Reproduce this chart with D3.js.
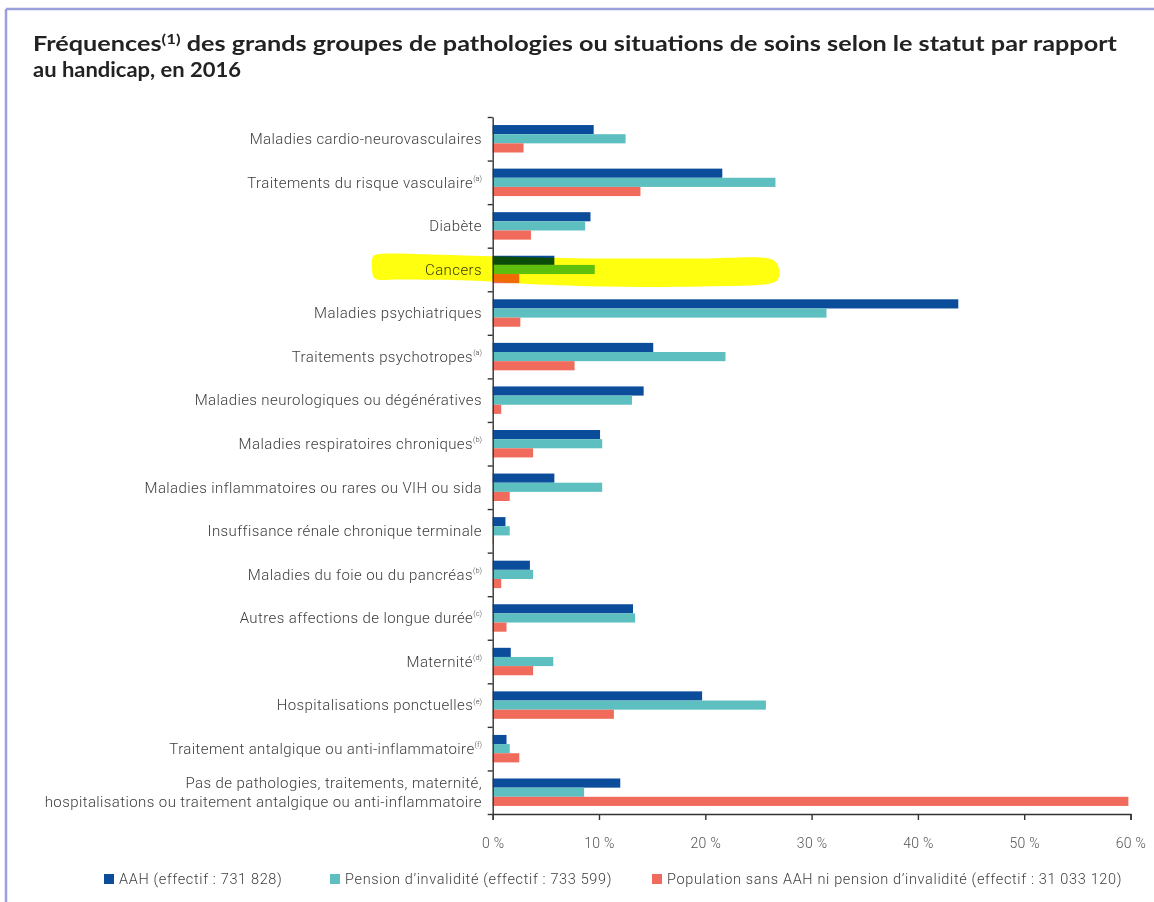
<!DOCTYPE html>
<html lang="fr">
<head>
<meta charset="utf-8">
<script src="https://cdn.jsdelivr.net/npm/d3@7"></script>
<style>
  html, body { margin: 0; padding: 0; background: #fff; }
  svg { display: block; }
  .lbl { font-family: Roboto, "Open Sans", sans-serif; font-weight: 300; fill: #3c3c3c; letter-spacing: 0.4px; }
  .axis path, .axis line { stroke: #333; stroke-width: 1.4; }
  .axis text { font-family: Roboto, sans-serif; font-weight: 300; font-size: 14px; fill: #555; letter-spacing: 0.3px; }
</style>
</head>
<body>
<svg id="chart" width="1154" height="902"></svg>
<script>
// Pathology groups ("|" splits a label over two lines)
const categories = [
  "Maladies cardio-neurovasculaires",
  "Traitements du risque vasculaire",
  "Diabète",
  "Cancers",
  "Maladies psychiatriques",
  "Traitements psychotropes",
  "Maladies neurologiques ou dégénératives",
  "Maladies respiratoires chroniques",
  "Maladies inflammatoires ou rares ou VIH ou sida",
  "Insuffisance rénale chronique terminale",
  "Maladies du foie ou du pancréas",
  "Autres affections de longue durée",
  "Maternité",
  "Hospitalisations ponctuelles",
  "Traitement antalgique ou anti-inflammatoire",
  "Pas de pathologies, traitements, maternité,|hospitalisations ou traitement antalgique ou anti-inflammatoire"
];
const footnotes = ["", "(a)", "", "", "", "(a)", "", "(b)", "", "", "(b)", "(c)", "(d)", "(e)", "(f)", ""];

// Frequencies in %, by status
const aah        = [9.5, 21.6, 9.2, 5.8, 43.8, 15.1, 14.2, 10.1, 5.8, 1.2, 3.5, 13.2, 1.7, 19.7, 1.3, 12.0];
const pension    = [12.5, 26.6, 8.7, 9.6, 31.4, 21.9, 13.1, 10.3, 10.3, 1.6, 3.8, 13.4, 5.7, 25.7, 1.6, 8.6];
const population = [2.9, 13.9, 3.6, 2.5, 2.6, 7.7, 0.8, 3.8, 1.6, 0.1, 0.8, 1.3, 3.8, 11.4, 2.5, 59.8];

const seriesNames = [
  "AAH (effectif : 731 828)",
  "Pension d’invalidité (effectif : 733 599)",
  "Population sans AAH ni pension d’invalidité (effectif : 31 033 120)"
];
const seriesColors = ["#0b4c9b", "#5ebfc0", "#f06b5c"];
const xTicks = [0, 10, 20, 30, 40, 50, 60];
const highlighted = "Cancers";

const svg = d3.select("#chart");

// Frame lines (top and left)
svg.append("line").attr("x1", 6).attr("x2", 1154).attr("y1", 9).attr("y2", 9)
  .attr("stroke", "#9aa0da").attr("stroke-width", 2.5);
svg.append("line").attr("x1", 6).attr("x2", 6).attr("y1", 9).attr("y2", 902)
  .attr("stroke", "#9aa0da").attr("stroke-width", 2.5);

// Title
const title = svg.append("g").attr("font-family", "Lato, sans-serif")
  .attr("font-weight", 700).attr("fill", "#222");
const t1 = title.append("text").attr("x", 33).attr("y", 51).attr("font-size", 21)
  .attr("textLength", 1084).attr("lengthAdjust", "spacingAndGlyphs");
t1.append("tspan").text("Fréquences");
t1.append("tspan").attr("font-size", 14).attr("dy", -7).text("(1)");
t1.append("tspan").attr("dy", 7).text(" des grands groupes de pathologies ou situations de soins selon le statut par rapport");
title.append("text").attr("x", 33).attr("y", 77).attr("font-size", 21)
  .attr("textLength", 208).attr("lengthAdjust", "spacingAndGlyphs")
  .text("au handicap, en 2016");

// Scales
const x = d3.scaleLinear().domain([0, 60]).range([492.7, 1130.5]);
const yIdx = d3.scaleLinear().domain([0, categories.length]).range([117, 814]);
const y = d3.scaleBand().domain(categories).range([117, 814])
  .paddingInner(0.37).paddingOuter(0.185);
const ySub = d3.scaleBand().domain([0, 1, 2]).range([0, y.bandwidth()]);

const rows = categories.map((c, i) => ({
  cat: c, note: footnotes[i], values: [aah[i], pension[i], population[i]]
}));

// Bars
const groups = svg.append("g").selectAll("g").data(rows).join("g")
  .attr("transform", d => `translate(0,${y(d.cat)})`);
groups.selectAll("rect").data(d => d.values).join("rect")
  .attr("x", x(0))
  .attr("y", (v, j) => ySub(j))
  .attr("height", ySub.bandwidth())
  .attr("width", v => x(v) - x(0))
  .attr("fill", (v, j) => seriesColors[j]);

// Category labels
const labels = svg.append("g").selectAll("text").data(rows).join("text")
  .attr("class", "lbl")
  .attr("x", 482)
  .attr("y", d => y(d.cat) + y.bandwidth() / 2)
  .attr("font-size", 15)
  .attr("text-anchor", "end");
labels.each(function(d) {
  const el = d3.select(this);
  const lines = d.cat.split("|");
  if (lines.length === 1) {
    el.attr("dy", "0.35em");
    el.append("tspan").text(lines[0]);
    if (d.note) el.append("tspan").attr("font-size", 7.5).attr("letter-spacing", 0)
      .attr("dy", "-0.9em").text(d.note);
  } else {
    lines.forEach((ln, k) => {
      el.append("tspan").attr("x", 482)
        .attr("dy", k === 0 ? "-0.3em" : "1.3em").text(ln);
    });
  }
});

// Axes
svg.append("g").attr("class", "axis")
  .attr("transform", `translate(${x(0)},0)`)
  .call(d3.axisLeft(yIdx).tickValues(d3.range(categories.length + 1))
    .tickSize(5).tickSizeOuter(0).tickFormat(""));
svg.append("g").attr("class", "axis")
  .attr("transform", `translate(0,${yIdx.range()[1]})`)
  .call(d3.axisBottom(x).tickValues(xTicks).tickSize(6).tickSizeOuter(6)
    .tickPadding(18).tickFormat(d => d + " %"));

// Highlighter stroke over the "Cancers" row
const cy = y(highlighted) + y.bandwidth() / 2;
const brush = [
  [373, cy - 13], [377, cy - 15], [430, cy - 15], [500, cy - 13], [600, cy - 11],
  [700, cy - 11], [772, cy - 10], [778, cy - 4], [778, cy + 10], [770, cy + 14],
  [700, cy + 17], [600, cy + 17], [520, cy + 14], [470, cy + 11], [400, cy + 10],
  [375, cy + 9], [372, cy]
];
svg.append("path")
  .attr("d", d3.line().curve(d3.curveCatmullRomClosed)(brush))
  .attr("fill", "#ffff10")
  .style("mix-blend-mode", "multiply");

// Legend
const legendX = [104, 330, 652];
const legend = svg.append("g").selectAll("g").data(seriesNames).join("g")
  .attr("transform", (d, i) => `translate(${legendX[i]},874)`);
legend.append("rect").attr("width", 10).attr("height", 10)
  .attr("fill", (d, i) => seriesColors[i]);
legend.append("text").attr("class", "lbl").attr("x", 15).attr("y", 5)
  .attr("dy", "0.35em").attr("font-size", 14.5).attr("fill", "#444")
  .style("letter-spacing", "0.65px").text(d => d);
</script>
</body>
</html>
